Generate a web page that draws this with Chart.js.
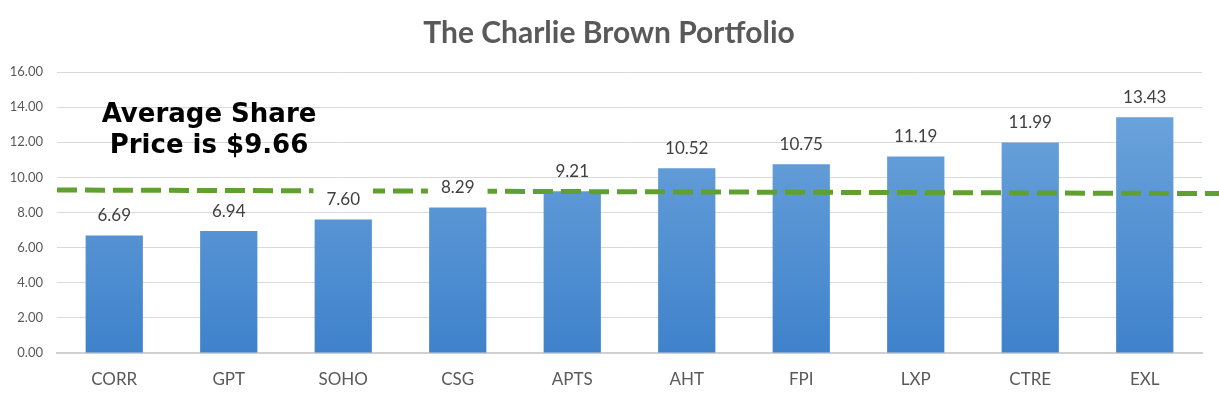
<!DOCTYPE html>
<html lang="en">
<head>
    <meta charset="UTF-8">
    <title>The Charlie Brown Portfolio</title>
    <script src="https://cdn.jsdelivr.net/npm/chart.js"></script>
    <style>
        body { margin: 0; background: #fff; }
        #wrap { width: 1219px; height: 400px; }
    </style>
</head>
<body>
    <div id="wrap"><canvas id="myChart"></canvas></div>

    <script>
        const tickers = ['CORR', 'GPT', 'SOHO', 'CSG', 'APTS', 'AHT', 'FPI', 'LXP', 'CTRE', 'EXL'];
        const prices = [6.69, 6.94, 7.60, 8.29, 9.21, 10.52, 10.75, 11.19, 11.99, 13.43];
        const yTicks = [0, 2, 4, 6, 8, 10, 12, 14, 16];

        // the hand drawn dashed "average" line, slightly tilted in the original
        const avgLineStart = 9.28;
        const avgLineEnd = 9.08;
        const avgNote = ['Average Share', 'Price is $9.66'];

        const labelFont = '17px Lato';
        const labelColor = '#404040';

        function barGradient(context) {
            const area = context.chart.chartArea;
            if (!area) return '#5b9bd5';
            const g = context.chart.ctx.createLinearGradient(0, area.top, 0, area.bottom);
            g.addColorStop(0, '#72a8de');
            g.addColorStop(1, '#3f82cb');
            return g;
        }

        // draws the title, the dashed line (cut around value labels), the labels and the note
        const overlay = {
            id: 'overlay',
            afterDatasetsDraw(chart) {
                const ctx = chart.ctx;
                const y = chart.scales.y;
                const area = chart.chartArea;
                const meta = chart.getDatasetMeta(0);

                ctx.save();
                ctx.font = labelFont;
                const boxes = meta.data.map((bar, i) => {
                    const txt = prices[i].toFixed(2);
                    const w = ctx.measureText(txt).width;
                    const cy = bar.y - 20;
                    return { txt, x: bar.x, y: cy, w };
                });

                // clip out label boxes so the dash line breaks around them
                ctx.beginPath();
                ctx.rect(0, 0, chart.width, chart.height);
                boxes.forEach(b => {
                    ctx.rect(b.x - b.w / 2 - 13, b.y - 14, b.w + 26, 28);
                });
                ctx.clip('evenodd');

                ctx.strokeStyle = '#5fa031';
                ctx.lineWidth = 5;
                ctx.setLineDash([20, 8]);
                ctx.beginPath();
                ctx.moveTo(area.left, y.getPixelForValue(avgLineStart));
                ctx.lineTo(chart.width, y.getPixelForValue(avgLineEnd));
                ctx.stroke();
                ctx.restore();

                ctx.save();
                ctx.font = labelFont;
                ctx.fillStyle = labelColor;
                ctx.textAlign = 'center';
                ctx.textBaseline = 'middle';
                boxes.forEach(b => ctx.fillText(b.txt, b.x, b.y));

                ctx.font = 'bold 26px "DejaVu Sans"';
                ctx.fillStyle = '#000';
                ctx.fillText(avgNote[0], 209, 115);
                ctx.fillText(avgNote[1], 209, 146);

                ctx.font = 'bold 30px Lato';
                ctx.fillStyle = '#595959';
                ctx.fillText('The Charlie Brown Portfolio', 609, 33);
                ctx.restore();
            }
        };

        const ctx = document.getElementById('myChart').getContext('2d');

        new Chart(ctx, {
            type: 'bar',
            data: {
                labels: tickers,
                datasets: [{
                    label: 'Share Price',
                    data: prices,
                    backgroundColor: barGradient,
                    barPercentage: 0.5,
                    categoryPercentage: 1.0
                }]
            },
            options: {
                responsive: true,
                maintainAspectRatio: false,
                animation: false,
                layout: {
                    padding: { top: 72, right: 17, left: 0, bottom: 0 }
                },
                plugins: {
                    legend: { display: false },
                    tooltip: { enabled: false }
                },
                scales: {
                    x: {
                        grid: { display: false, drawTicks: false },
                        border: { display: true, color: '#d0d0d0', width: 2 },
                        ticks: {
                            color: '#595959',
                            font: { family: 'Lato', size: 17 },
                            padding: 16
                        },
                        afterFit(scale) { scale.height = 47; }
                    },
                    y: {
                        min: 0,
                        max: 16,
                        afterBuildTicks(scale) {
                            scale.ticks = yTicks.map(v => ({ value: v }));
                        },
                        grid: { color: '#d9d9d9', drawTicks: false },
                        border: { display: false },
                        ticks: {
                            color: '#595959',
                            font: { family: 'Lato', size: 13 },
                            padding: 14,
                            callback: v => v.toFixed(2)
                        },
                        afterFit(scale) { scale.width = 57; }
                    }
                }
            },
            plugins: [overlay]
        });
    </script>
</body>
</html>
